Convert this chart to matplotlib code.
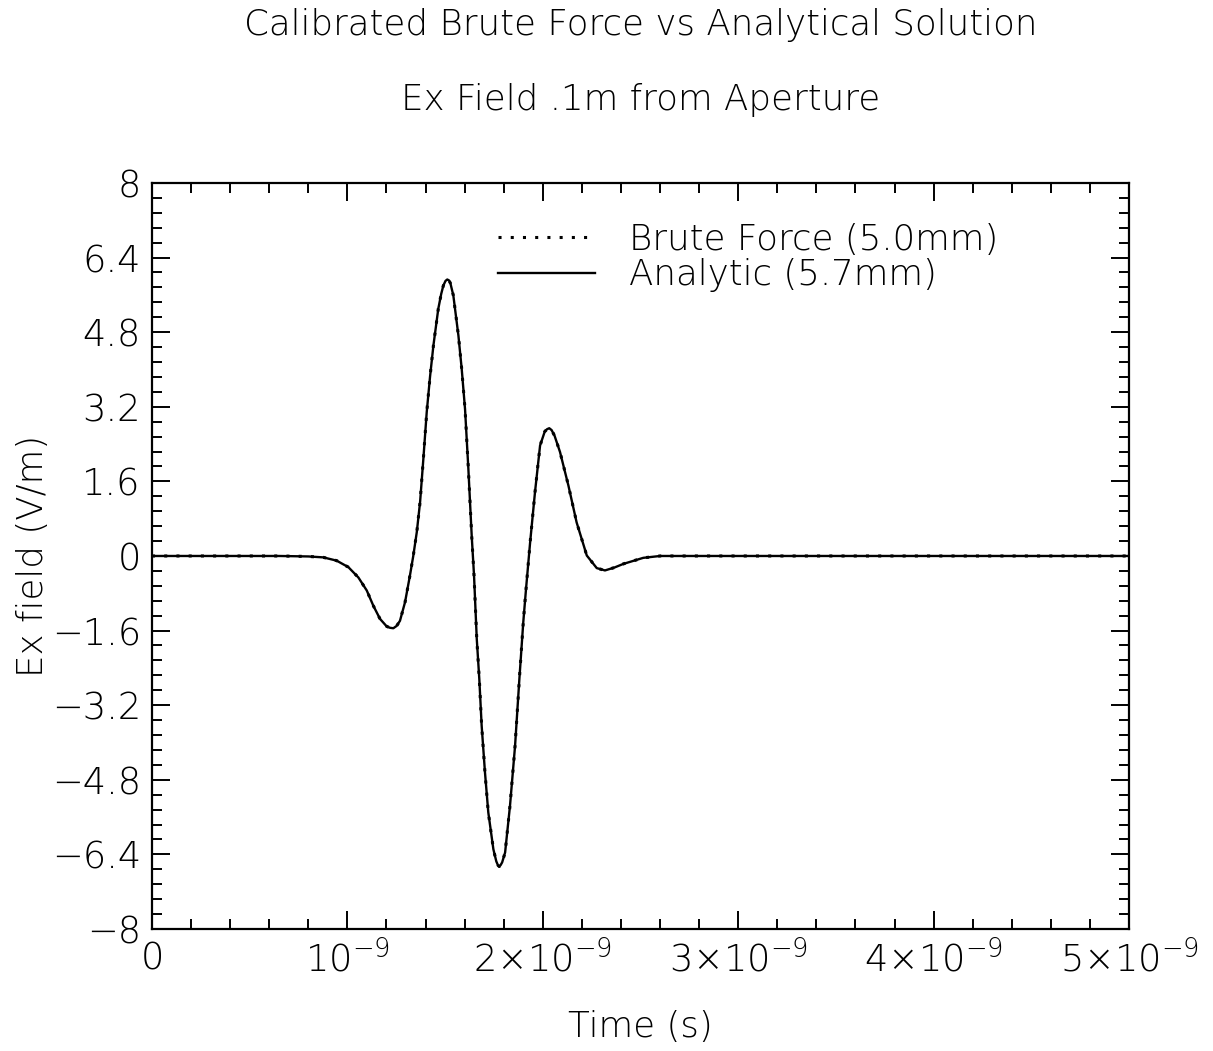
import numpy as np
import matplotlib
matplotlib.use("Agg")
import matplotlib.pyplot as plt
from matplotlib.ticker import MultipleLocator

# time samples (ns)
t_ns = [0.00, 0.65, 0.80, 0.877, 0.945, 1.005, 1.056, 1.099, 1.133, 1.167,
        1.201, 1.218, 1.235, 1.252, 1.269, 1.295, 1.320, 1.337, 1.355, 1.372,
        1.389, 1.406, 1.423, 1.440, 1.465, 1.480, 1.491, 1.502, 1.511, 1.520,
        1.527, 1.542, 1.568, 1.585, 1.602, 1.619, 1.636, 1.648, 1.662, 1.675,
        1.687, 1.704, 1.721, 1.747, 1.762, 1.770, 1.777, 1.784, 1.792, 1.807,
        1.832, 1.858, 1.880, 1.900, 1.914, 1.935, 1.960, 1.986, 2.010, 2.022,
        2.033, 2.045, 2.060, 2.088, 2.131, 2.173, 2.225, 2.276, 2.318, 2.365,
        2.412, 2.514, 2.600, 5.00]

# analytic Ex (V/m)
analytic_ex = [0.00, 0.00, -0.01, -0.03, -0.10, -0.24, -0.46, -0.74, -1.07, -1.35,
               -1.51, -1.54, -1.55, -1.50, -1.39, -0.99, -0.42, 0.00, 0.51, 1.16,
               2.10, 3.09, 3.85, 4.51, 5.30, 5.62, 5.80, 5.90, 5.93, 5.91,
               5.85, 5.59, 4.73, 4.01, 3.15, 1.87, 0.44, -0.42, -1.78, -2.64,
               -3.64, -4.64, -5.50, -6.29, -6.55, -6.63, -6.66, -6.63, -6.57, -6.36,
               -5.36, -4.07, -2.64, -1.42, -0.71, 0.29, 1.37, 2.37, 2.67, 2.72,
               2.74, 2.70, 2.58, 2.23, 1.51, 0.72, 0.01, -0.26, -0.31, -0.25,
               -0.17, -0.04, 0.00, 0.00]

# brute force Ex (V/m) - lies on top of the analytic curve
brute_ex = [0.00, 0.00, -0.01, -0.03, -0.10, -0.24, -0.46, -0.74, -1.07, -1.35,
            -1.51, -1.54, -1.55, -1.50, -1.39, -0.99, -0.42, 0.00, 0.51, 1.16,
            2.10, 3.09, 3.85, 4.51, 5.30, 5.62, 5.80, 5.90, 5.93, 5.91,
            5.85, 5.59, 4.73, 4.01, 3.15, 1.87, 0.44, -0.42, -1.78, -2.64,
            -3.64, -4.64, -5.50, -6.29, -6.55, -6.63, -6.66, -6.63, -6.57, -6.36,
            -5.36, -4.07, -2.64, -1.42, -0.71, 0.29, 1.37, 2.37, 2.67, 2.72,
            2.74, 2.70, 2.58, 2.23, 1.51, 0.72, 0.01, -0.26, -0.31, -0.25,
            -0.17, -0.04, 0.00, 0.00]

labels = ["Brute Force (5.0mm)", "Analytic (5.7mm)"]

x_ticks = [0, 1e-9, 2e-9, 3e-9, 4e-9, 5e-9]
x_ticklabels = ["0", r"$10^{-9}$", r"$2{\times}10^{-9}$", r"$3{\times}10^{-9}$",
                r"$4{\times}10^{-9}$", r"$5{\times}10^{-9}$"]
y_ticks = [-8, -6.4, -4.8, -3.2, -1.6, 0, 1.6, 3.2, 4.8, 6.4, 8]
y_ticklabels = ["\u22128", "\u22126.4", "\u22124.8", "\u22123.2", "\u22121.6",
                "0", "1.6", "3.2", "4.8", "6.4", "8"]

plt.rcParams["font.family"] = ["DejaVu Sans"]
plt.rcParams["font.weight"] = "light"
plt.rcParams["axes.labelweight"] = "light"
plt.rcParams["mathtext.fontset"] = "custom"
plt.rcParams["mathtext.rm"] = "DejaVu Sans:light"
plt.rcParams["mathtext.default"] = "rm"
FS = 25.7
TICK_FS = 26.5

t = np.array(t_ns) * 1e-9

fig = plt.figure(figsize=(12.13, 10.51), dpi=100)
ax = fig.add_axes([0.1253, 0.1161, 0.8055, 0.7098])

ax.plot(t, brute_ex, color="black", lw=2.2, ls=(0, (1, 3)), label=labels[0])
ax.plot(t, analytic_ex, color="black", lw=1.7, label=labels[1])

ax.set_xlim(0, 5e-9)
ax.set_ylim(-8, 8)
ax.set_xticks(x_ticks)
ax.set_xticklabels(x_ticklabels)
ax.set_yticks(y_ticks)
ax.set_yticklabels(y_ticklabels)
ax.xaxis.set_minor_locator(MultipleLocator(0.2e-9))
ax.yaxis.set_minor_locator(MultipleLocator(0.32))

ax.tick_params(which="both", direction="in", top=True, right=True,
               width=1.4, labelsize=TICK_FS)
ax.tick_params(which="major", length=13, pad=8)
ax.tick_params(which="minor", length=7)
for s in ax.spines.values():
    s.set_linewidth(1.6)

ax.set_xlabel("Time (s)", fontsize=FS, labelpad=22)
ax.set_ylabel("Ex field (V/m)", fontsize=FS, labelpad=1)

fig.text(0.528, 1 - 25 / 1051, "Calibrated Brute Force vs Analytical Solution",
         ha="center", va="center", fontsize=FS)
fig.text(0.528, 1 - 100 / 1051, "Ex Field .1m from Aperture",
         ha="center", va="center", fontsize=FS)

ax.legend(loc="upper left", bbox_to_anchor=(0.34, 0.966), frameon=False,
          fontsize=FS, handlelength=2.7, handletextpad=0.95, labelspacing=0.05,
          borderaxespad=0)

fig.savefig("out.png", dpi=100)
